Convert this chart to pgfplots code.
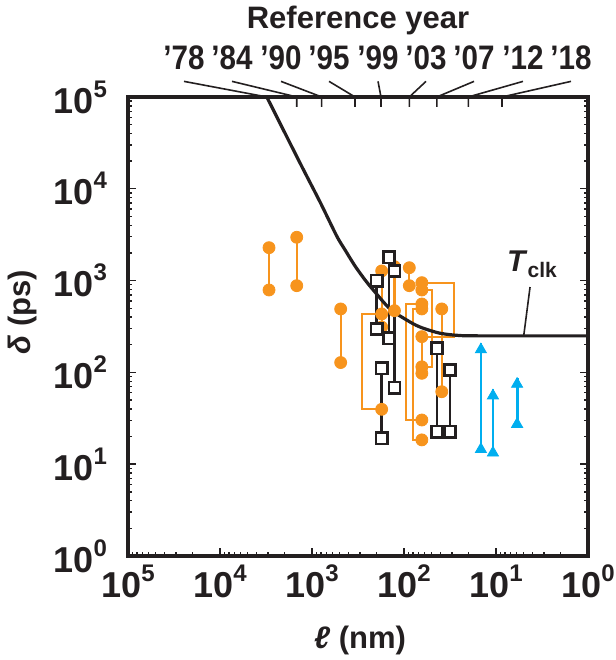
\documentclass[border=0pt]{standalone}
\usepackage{fontspec}
\setmainfont{Liberation Sans}
\usepackage{pgfplots}
\pgfplotsset{compat=1.18}
\definecolor{dk}{HTML}{231F20}
\definecolor{orng}{HTML}{F7941D}
\definecolor{cyn}{HTML}{00AEEF}
\newcommand{\bigf}{\fontsize{15.5}{16}\selectfont\bfseries}
\newcommand{\yr}[1]{\scalebox{0.87}[1]{\fontsize{17}{17}\selectfont\bfseries ’#1}}

\begin{document}
\begin{tikzpicture}
\begin{axis}[
  scale only axis, width=230pt, height=229.5pt,
  xmode=log, ymode=log, x dir=reverse,
  log basis x=10, log basis y=10,
  xmin=1, xmax=1e5, ymin=1, ymax=1e5,
  xtick={1,10,100,1000,10000,100000},
  ytick={1,10,100,1000,10000,100000},
  minor xtick={2,3,4,5,6,7,8,9,20,30,40,50,60,70,80,90,200,300,400,500,600,700,800,900,
    2000,3000,4000,5000,6000,7000,8000,9000,20000,30000,40000,50000,60000,70000,80000,90000},
  minor ytick={2,3,4,5,6,7,8,9,20,30,40,50,60,70,80,90,200,300,400,500,600,700,800,900,
    2000,3000,4000,5000,6000,7000,8000,9000,20000,30000,40000,50000,60000,70000,80000,90000},
  clip=false,
  axis line style={dk, line width=1.6pt},
  xtick pos=lower, ytick pos=both, tick align=inside,
  major tick length=4pt, minor tick length=2.2pt,
  every tick/.style={dk, line width=0.7pt},
  ticklabel style={font=\fontsize{18}{18}\selectfont\bfseries, text=dk},
  /pgf/number format/assume math mode=true,
  log number format basis/.code 2 args={10\raisebox{8pt}{\fontsize{12}{12}\selectfont\pgfmathprintnumber{#2}}},
  yticklabel style={xshift=-7pt},
  xticklabel style={yshift=-1pt},
]
% black connectors
\addplot[dk, line width=1.3pt] coordinates {(198,998) (198,297)};
\addplot[dk, line width=1.3pt] coordinates {(146,1794) (146,235)};
\addplot[dk, line width=1.3pt] coordinates {(127,1273) (127,68)};
\addplot[dk, line width=1.3pt] coordinates {(175,111) (175,19.1)};
\addplot[dk, line width=1.3pt] coordinates {(44,183) (44,22.6)};
\addplot[dk, line width=1.3pt] coordinates {(31.6,106) (31.6,22.6)};
% orange connectors
\addplot[orng, line width=1.1pt] coordinates {(2934,2282) (2934,790)};
\addplot[orng, line width=1.1pt] coordinates {(1466,2963) (1466,880)};
\addplot[orng, line width=1.1pt] coordinates {(488,491) (488,128)};
\addplot[orng, line width=1.1pt] coordinates {(175,1273) (175,312)};
\addplot[orng, line width=1.1pt] coordinates {(175,433) (286,433) (286,39.6) (175,39.6)};
\addplot[orng, line width=1.1pt] coordinates {(127,1417) (127,470)};
\addplot[orng, line width=1.1pt] coordinates {(87.6,1381) (87.6,880)};
\addplot[orng, line width=1.1pt] coordinates {(64,949) (28.6,949) (28.6,245) (64,245)};
\addplot[orng, line width=1.1pt] coordinates {(64,790) (50,790) (50,115) (64,115)};
\addplot[orng, line width=1.1pt] coordinates {(64,556) (95,556) (95,30.3) (64,30.3)};
\addplot[orng, line width=1.1pt] coordinates {(64,491) (80.4,491) (80.4,18.4) (64,18.4)};
\addplot[orng, line width=1.1pt] coordinates {(64,245) (64,97.7)};
\addplot[orng, line width=1.1pt] coordinates {(38.9,491) (38.9,61.6)};
\addplot[only marks, mark=*, mark size=3pt, orng] coordinates {
  (2934,2282) (2934,790) (1466,2963) (1466,880) (488,491) (488,128)
  (175,1273) (175,433) (175,312) (175,39.6) (127,1417) (127,470)
  (87.6,1381) (87.6,880) (64,949) (64,790) (64,556) (64,491) (64,245)
  (64,115) (64,97.7) (64,30.3) (64,18.4) (38.9,491) (38.9,61.6)};
% T_clk
\addplot[dk, line width=1.6pt, smooth] coordinates {
  (3100,100000) (1350,19100) (818,7180) (539,3060) (437,2155) (341,1443)
  (265,1016) (216,790) (142,491) (93.5,372) (67,312) (40.6,267)
  (24.6,252) (14.9,250) (1,250)};
% black squares
\addplot[only marks, mark=square*, mark size=2.8pt,
  mark options={draw=dk, fill=white, line width=1.3pt}] coordinates {
  (198,998) (198,297) (146,1794) (146,235) (127,1273) (127,68)
  (175,111) (175,19.1) (44,183) (44,22.6) (31.6,106) (31.6,22.6)};
% cyan arrows
\addplot[cyn, line width=1.4pt] coordinates {(14.6,13.3) (14.6,207)};
\addplot[cyn, line width=1.4pt] coordinates {(10.8,12.3) (10.8,65.5)};
\addplot[cyn, line width=1.4pt] coordinates {(5.9,25.2) (5.9,87.5)};
\addplot[only marks, mark=triangle*, mark size=3.2pt, cyn] coordinates {
  (14.6,14.5) (14.6,177) (10.8,13.3) (10.8,55.7) (5.9,27.3) (5.9,74.6)};

% labels
\node[font=\bigf, text=dk, anchor=base] at (rel axis cs:0.5,1.15) {Reference year};
\node[font=\fontsize{15.5}{16}\selectfont\bfseries, text=dk, rotate=90] at (rel axis cs:-0.2304,0.5316) {\textit{δ} (ps)};
\node[font=\fontsize{15.5}{16}\selectfont\bfseries, text=dk] at (rel axis cs:0.5043,-0.1830) {\textit{ℓ} (nm)};
\node[font=\fontsize{15}{16}\selectfont\bfseries, text=dk, anchor=base] at (rel axis cs:0.8783,0.619) {\textit{T}\raisebox{-3pt}{\fontsize{10.5}{11}\selectfont clk}};
\draw[dk, line width=0.8pt] (rel axis cs:0.874,0.586) -- (axis cs:5,250);

% year labels, leaders and ticks
\node[text=dk, anchor=base] at (rel axis cs:0.1217,1.0588) {\yr{78}};
\node[text=dk, anchor=base] at (rel axis cs:0.2261,1.0588) {\yr{84}};
\node[text=dk, anchor=base] at (rel axis cs:0.3326,1.0588) {\yr{90}};
\node[text=dk, anchor=base] at (rel axis cs:0.4370,1.0588) {\yr{95}};
\node[text=dk, anchor=base] at (rel axis cs:0.5435,1.0588) {\yr{99}};
\node[text=dk, anchor=base] at (rel axis cs:0.6478,1.0588) {\yr{03}};
\node[text=dk, anchor=base] at (rel axis cs:0.7522,1.0588) {\yr{07}};
\node[text=dk, anchor=base] at (rel axis cs:0.8587,1.0588) {\yr{12}};
\node[text=dk, anchor=base] at (rel axis cs:0.9630,1.0588) {\yr{18}};
\draw[dk, line width=0.8pt] (rel axis cs:0.1217,1.034) -- (axis cs:3100,100000);
\draw[dk, line width=0.8pt] (rel axis cs:0.2261,1.034) -- (axis cs:1466,100000) -- ++(0pt,-5pt);
\draw[dk, line width=0.8pt] (rel axis cs:0.3326,1.034) -- (axis cs:785,100000) -- ++(0pt,-5pt);
\draw[dk, line width=0.8pt] (rel axis cs:0.4370,1.034) -- (axis cs:341,100000) -- ++(0pt,-5pt);
\draw[dk, line width=0.8pt] (rel axis cs:0.5435,1.034) -- (axis cs:178,100000) -- ++(0pt,-5pt);
\draw[dk, line width=0.8pt] (rel axis cs:0.6478,1.034) -- (axis cs:87.6,100000) -- ++(0pt,-5pt);
\draw[dk, line width=0.8pt] (rel axis cs:0.7522,1.034) -- (axis cs:44,100000) -- ++(0pt,-5pt);
\draw[dk, line width=0.8pt] (rel axis cs:0.8587,1.034) -- (axis cs:20,100000) -- ++(0pt,-5pt);
\draw[dk, line width=0.8pt] (rel axis cs:0.9630,1.034) -- (axis cs:8.6,100000) -- ++(0pt,-5pt);

\coordinate (bbsw) at (rel axis cs:-0.2783,-0.2266);
\coordinate (bbne) at (rel axis cs:1.0587,1.2113);
\end{axis}
\pgfresetboundingbox
\path[use as bounding box] (bbsw) rectangle (bbne);
\end{tikzpicture}
\end{document}
